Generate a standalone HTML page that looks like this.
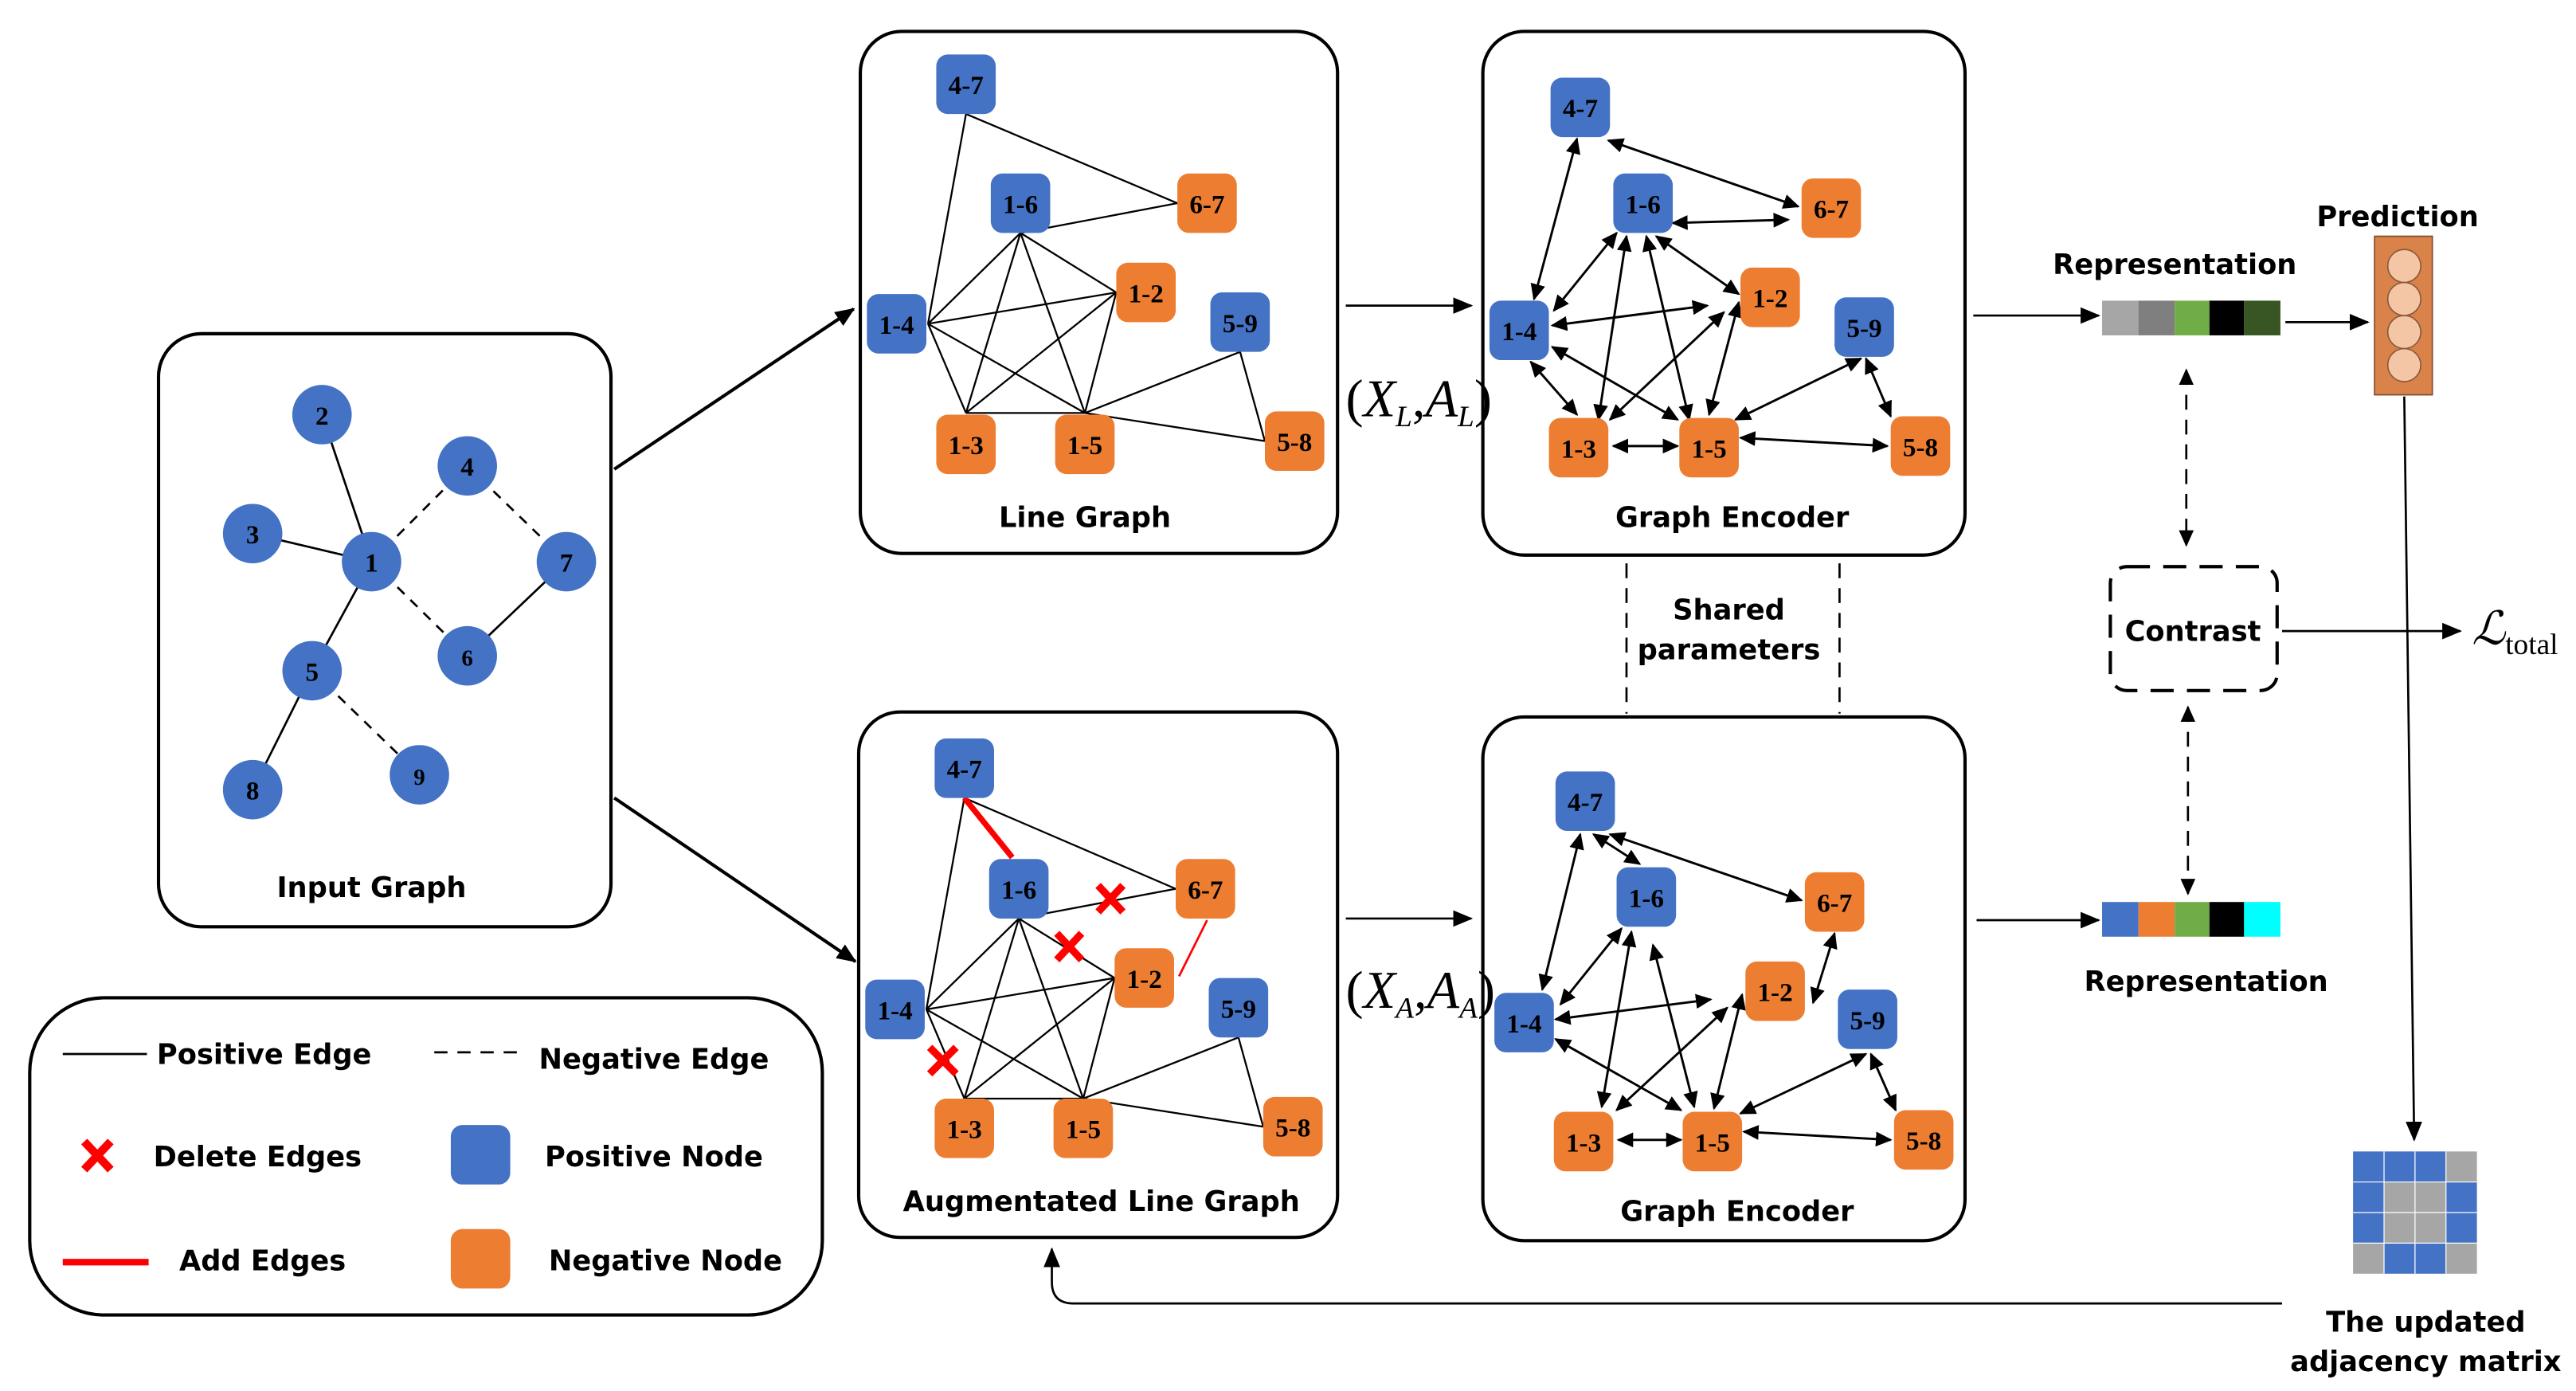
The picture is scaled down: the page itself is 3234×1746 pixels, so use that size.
<!DOCTYPE html>
<html><head><meta charset="utf-8"><style>
html,body{margin:0;padding:0;background:#fff;}
svg{display:block}
.t{font-family:"DejaVu Sans","Liberation Sans",sans-serif;font-size:17px;font-weight:bold;fill:#000;text-anchor:middle}
.n{font-family:"Liberation Serif",serif;font-size:16px;font-weight:bold;fill:#000;text-anchor:middle}
.m{font-family:"Liberation Serif",serif;font-style:italic;fill:#000}
</style></head><body>
<svg width="3234" height="1746" viewBox="0 0 1560 842" preserveAspectRatio="none" xmlns="http://www.w3.org/2000/svg">
<defs>
<marker id="a" markerUnits="userSpaceOnUse" markerWidth="12" markerHeight="10" refX="11" refY="5" orient="auto-start-reverse"><path d="M0,0 L12,5 L0,10 z" fill="#000"/></marker>
<marker id="s" markerUnits="userSpaceOnUse" markerWidth="10" markerHeight="9" refX="9" refY="4.5" orient="auto-start-reverse"><path d="M0,0 L10,4.5 L0,9 z" fill="#000"/></marker>
</defs>
<rect width="1560" height="842" fill="#fff"/>

<!-- Input graph -->
<rect x="96" y="202" width="274" height="359" rx="26" fill="none" stroke="#000" stroke-width="2"/>
<g stroke="#000" stroke-width="1.3">
<line x1="195" y1="251" x2="225" y2="340"/><line x1="153" y1="323" x2="225" y2="340"/>
<line x1="225" y1="340" x2="283" y2="282" stroke-dasharray="6,5"/><line x1="283" y1="282" x2="343" y2="340" stroke-dasharray="6,5"/>
<line x1="343" y1="340" x2="283" y2="397"/><line x1="225" y1="340" x2="283" y2="397" stroke-dasharray="6,5"/>
<line x1="225" y1="340" x2="189" y2="406"/><line x1="189" y1="406" x2="153" y2="478"/>
<line x1="189" y1="406" x2="254" y2="469" stroke-dasharray="6,5"/>
</g>
<g fill="#4472c4">
<circle cx="195" cy="251" r="18"/><circle cx="153" cy="323" r="18"/><circle cx="225" cy="340" r="18"/>
<circle cx="283" cy="282" r="18"/><circle cx="343" cy="340" r="18"/><circle cx="283" cy="397" r="18"/>
<circle cx="189" cy="406" r="18"/><circle cx="153" cy="478" r="18"/><circle cx="254" cy="469" r="18"/>
</g>
<g class="n"><text x="195" y="257">2</text><text x="153" y="329">3</text><text x="225" y="346">1</text><text x="283" y="288">4</text><text x="343" y="346">7</text><text x="283" y="403" font-size="14">6</text><text x="189" y="412">5</text><text x="153" y="484">8</text><text x="254" y="475" font-size="14">9</text></g>
<text class="t" x="225" y="543">Input Graph</text>

<!-- Legend -->
<rect x="18" y="604" width="480" height="192" rx="45" fill="none" stroke="#000" stroke-width="2"/>
<line x1="38" y1="638" x2="89" y2="638" stroke="#000" stroke-width="1.3"/>
<text class="t" x="160" y="644">Positive Edge</text>
<line x1="263" y1="637" x2="313" y2="637" stroke="#000" stroke-width="1.3" stroke-dasharray="8,6"/>
<text class="t" x="396" y="647">Negative Edge</text>
<g stroke="#f00" stroke-width="5"><line x1="51" y1="691" x2="67" y2="708"/><line x1="67" y1="691" x2="51" y2="708"/></g>
<text class="t" x="156" y="706">Delete Edges</text>
<line x1="38" y1="764" x2="90" y2="764" stroke="#f00" stroke-width="4"/>
<text class="t" x="159" y="769">Add Edges</text>
<rect x="273" y="681" width="36" height="36" rx="7" fill="#4472c4"/>
<text class="t" x="396" y="706">Positive Node</text>
<rect x="273" y="744" width="36" height="36" rx="7" fill="#ed7d31"/>
<text class="t" x="403" y="769">Negative Node</text>

<!-- main arrows -->
<line x1="372" y1="284" x2="517" y2="187" stroke="#000" stroke-width="2" marker-end="url(#a)"/>
<line x1="372" y1="483" x2="518" y2="582" stroke="#000" stroke-width="2" marker-end="url(#a)"/>

<!-- Line Graph -->
<rect x="521" y="19" width="289" height="316" rx="25" fill="none" stroke="#000" stroke-width="2"/>
<g stroke="#000" stroke-width="1.1">
<line x1="585" y1="69" x2="713" y2="123"/><line x1="585" y1="69" x2="562" y2="196"/>
<line x1="618" y1="141" x2="713" y2="123"/><line x1="618" y1="141" x2="562" y2="196"/><line x1="618" y1="141" x2="676" y2="177"/><line x1="618" y1="141" x2="585" y2="250"/><line x1="618" y1="141" x2="657" y2="250"/>
<line x1="562" y1="196" x2="676" y2="177"/><line x1="562" y1="196" x2="585" y2="250"/><line x1="562" y1="196" x2="657" y2="250"/>
<line x1="676" y1="177" x2="585" y2="250"/><line x1="676" y1="177" x2="657" y2="250"/><line x1="585" y1="250" x2="657" y2="250"/>
<line x1="657" y1="250" x2="751" y2="213"/><line x1="657" y1="250" x2="766" y2="267"/><line x1="751" y1="213" x2="766" y2="267"/>
</g>
<g>
<rect x="567" y="33" width="36" height="36" rx="7" fill="#4472c4"/><rect x="600" y="105" width="36" height="36" rx="7" fill="#4472c4"/><rect x="713" y="105" width="36" height="36" rx="7" fill="#ed7d31"/>
<rect x="676" y="159" width="36" height="36" rx="7" fill="#ed7d31"/><rect x="733" y="177" width="36" height="36" rx="7" fill="#4472c4"/><rect x="525" y="178" width="36" height="36" rx="7" fill="#4472c4"/>
<rect x="567" y="251" width="36" height="36" rx="7" fill="#ed7d31"/><rect x="639" y="251" width="36" height="36" rx="7" fill="#ed7d31"/><rect x="766" y="249" width="36" height="36" rx="7" fill="#ed7d31"/>
</g>
<g class="n"><text x="585" y="57">4-7</text><text x="618" y="129">1-6</text><text x="731" y="129">6-7</text><text x="694" y="183">1-2</text><text x="751" y="201">5-9</text><text x="543" y="202">1-4</text><text x="585" y="275">1-3</text><text x="657" y="275">1-5</text><text x="784" y="273">5-8</text></g>
<text class="t" x="657" y="319">Line Graph</text>

<!-- Augmented -->
<rect x="520" y="431" width="290" height="318" rx="25" fill="none" stroke="#000" stroke-width="2"/>
<g stroke="#000" stroke-width="1.1">
<line x1="584" y1="483" x2="712" y2="538"/><line x1="584" y1="483" x2="561" y2="611"/>
<line x1="617" y1="556" x2="712" y2="538"/><line x1="617" y1="556" x2="561" y2="611"/><line x1="617" y1="556" x2="675" y2="592"/><line x1="617" y1="556" x2="584" y2="665"/><line x1="617" y1="556" x2="656" y2="665"/>
<line x1="561" y1="611" x2="675" y2="592"/><line x1="561" y1="611" x2="584" y2="665"/><line x1="561" y1="611" x2="656" y2="665"/>
<line x1="675" y1="592" x2="584" y2="665"/><line x1="675" y1="592" x2="656" y2="665"/><line x1="584" y1="665" x2="656" y2="665"/>
<line x1="656" y1="665" x2="750" y2="628"/><line x1="656" y1="665" x2="765" y2="682"/><line x1="750" y1="628" x2="765" y2="682"/>
</g>
<line x1="584" y1="483" x2="613" y2="519" stroke="#f00" stroke-width="3.5"/>
<line x1="731" y1="557" x2="714" y2="591" stroke="#f00" stroke-width="1.3"/>
<g>
<rect x="566" y="447" width="36" height="36" rx="7" fill="#4472c4"/><rect x="599" y="520" width="36" height="36" rx="7" fill="#4472c4"/><rect x="712" y="520" width="36" height="36" rx="7" fill="#ed7d31"/>
<rect x="675" y="574" width="36" height="36" rx="7" fill="#ed7d31"/><rect x="732" y="592" width="36" height="36" rx="7" fill="#4472c4"/><rect x="524" y="593" width="36" height="36" rx="7" fill="#4472c4"/>
<rect x="566" y="665" width="36" height="36" rx="7" fill="#ed7d31"/><rect x="638" y="665" width="36" height="36" rx="7" fill="#ed7d31"/><rect x="765" y="664" width="36" height="36" rx="7" fill="#ed7d31"/>
</g>
<g class="n"><text x="584" y="471">4-7</text><text x="617" y="544">1-6</text><text x="730" y="544">6-7</text><text x="693" y="598">1-2</text><text x="750" y="616">5-9</text><text x="542" y="617">1-4</text><text x="584" y="689">1-3</text><text x="656" y="689">1-5</text><text x="783" y="688">5-8</text></g>
<g stroke="#f00" stroke-width="4.5">
<line x1="665" y1="536" x2="680" y2="552"/><line x1="680" y1="536" x2="665" y2="552"/>
<line x1="640" y1="565" x2="655" y2="581"/><line x1="655" y1="565" x2="640" y2="581"/>
<line x1="563" y1="634" x2="579" y2="650"/><line x1="579" y1="634" x2="563" y2="650"/>
</g>
<text class="t" x="667" y="733">Augmentated Line Graph</text>

<!-- to encoders -->
<line x1="815" y1="185" x2="891" y2="185" stroke="#000" stroke-width="1.3" marker-end="url(#a)"/>
<line x1="815" y1="556" x2="891" y2="556" stroke="#000" stroke-width="1.3" marker-end="url(#a)"/>
<text class="m" x="815" y="252" font-size="32"><tspan font-style="normal">(</tspan>X<tspan font-size="18" dy="6">L</tspan><tspan dy="-6" font-style="normal">,</tspan>A<tspan font-size="18" dy="6">L</tspan><tspan dy="-6" font-style="normal">)</tspan></text>
<text class="m" x="815" y="610" font-size="32"><tspan font-style="normal">(</tspan>X<tspan font-size="18" dy="6">A</tspan><tspan dy="-6" font-style="normal">,</tspan>A<tspan font-size="18" dy="6">A</tspan><tspan dy="-6" font-style="normal">)</tspan></text>

<!-- Encoder top -->
<rect x="898" y="19" width="292" height="317" rx="25" fill="none" stroke="#000" stroke-width="2"/>
<g stroke="#000" stroke-width="1.4" marker-start="url(#s)" marker-end="url(#s)">
<line x1="955" y1="84" x2="929" y2="181"/><line x1="974" y1="85" x2="1089" y2="125"/><line x1="1013" y1="135" x2="1083" y2="133"/>
<line x1="979" y1="141" x2="941" y2="188"/><line x1="985" y1="143" x2="968" y2="254"/><line x1="997" y1="143" x2="1023" y2="254"/>
<line x1="1003" y1="143" x2="1053" y2="178"/><line x1="940" y1="197" x2="1034" y2="185"/><line x1="940" y1="210" x2="1016" y2="254"/>
<line x1="927" y1="219" x2="955" y2="251"/><line x1="1044" y1="189" x2="975" y2="254"/><line x1="1053" y1="183" x2="1035" y2="251"/>
<line x1="977" y1="270" x2="1016" y2="270"/><line x1="1051" y1="254" x2="1127" y2="217"/><line x1="1054" y1="265" x2="1143" y2="270"/>
<line x1="1130" y1="217" x2="1145" y2="252"/>
</g>
<g>
<rect x="939" y="47" width="36" height="36" rx="7" fill="#4472c4"/><rect x="977" y="105" width="36" height="36" rx="7" fill="#4472c4"/><rect x="1091" y="108" width="36" height="36" rx="7" fill="#ed7d31"/>
<rect x="1054" y="162" width="36" height="36" rx="7" fill="#ed7d31"/><rect x="1111" y="180" width="36" height="36" rx="7" fill="#4472c4"/><rect x="902" y="182" width="36" height="36" rx="7" fill="#4472c4"/>
<rect x="938" y="253" width="36" height="36" rx="7" fill="#ed7d31"/><rect x="1017" y="253" width="36" height="36" rx="7" fill="#ed7d31"/><rect x="1145" y="252" width="36" height="36" rx="7" fill="#ed7d31"/>
</g>
<g class="n"><text x="957" y="71">4-7</text><text x="995" y="129">1-6</text><text x="1109" y="132">6-7</text><text x="1072" y="186">1-2</text><text x="1129" y="204">5-9</text><text x="920" y="206">1-4</text><text x="956" y="277">1-3</text><text x="1035" y="277">1-5</text><text x="1163" y="276">5-8</text></g>
<text class="t" x="1049" y="319">Graph Encoder</text>

<!-- Encoder bottom -->
<rect x="898" y="434" width="292" height="317" rx="25" fill="none" stroke="#000" stroke-width="2"/>
<g stroke="#000" stroke-width="1.4" marker-start="url(#s)" marker-end="url(#s)">
<line x1="957" y1="505" x2="934" y2="599"/><line x1="965" y1="505" x2="993" y2="523"/><line x1="975" y1="505" x2="1091" y2="545"/>
<line x1="1111" y1="565" x2="1098" y2="607"/><line x1="982" y1="562" x2="945" y2="608"/><line x1="988" y1="564" x2="970" y2="670"/>
<line x1="1001" y1="572" x2="1026" y2="670"/><line x1="942" y1="617" x2="1036" y2="605"/><line x1="942" y1="629" x2="1018" y2="672"/>
<line x1="1046" y1="610" x2="979" y2="672"/><line x1="1055" y1="602" x2="1038" y2="671"/><line x1="980" y1="690" x2="1018" y2="690"/>
<line x1="1054" y1="674" x2="1130" y2="638"/><line x1="1056" y1="685" x2="1145" y2="690"/><line x1="1133" y1="638" x2="1148" y2="672"/>
</g>
<g>
<rect x="942" y="467" width="36" height="36" rx="7" fill="#4472c4"/><rect x="979" y="525" width="36" height="36" rx="7" fill="#4472c4"/><rect x="1093" y="528" width="36" height="36" rx="7" fill="#ed7d31"/>
<rect x="1057" y="582" width="36" height="36" rx="7" fill="#ed7d31"/><rect x="1113" y="599" width="36" height="36" rx="7" fill="#4472c4"/><rect x="905" y="601" width="36" height="36" rx="7" fill="#4472c4"/>
<rect x="941" y="673" width="36" height="36" rx="7" fill="#ed7d31"/><rect x="1019" y="673" width="36" height="36" rx="7" fill="#ed7d31"/><rect x="1147" y="672" width="36" height="36" rx="7" fill="#ed7d31"/>
</g>
<g class="n"><text x="960" y="491">4-7</text><text x="997" y="549">1-6</text><text x="1111" y="552">6-7</text><text x="1075" y="606">1-2</text><text x="1131" y="623">5-9</text><text x="923" y="625">1-4</text><text x="959" y="697">1-3</text><text x="1037" y="697">1-5</text><text x="1165" y="696">5-8</text></g>
<text class="t" x="1052" y="739">Graph Encoder</text>

<!-- shared params -->
<line x1="985" y1="341" x2="985" y2="432" stroke="#000" stroke-width="1.3" stroke-dasharray="9,6"/>
<line x1="1114" y1="341" x2="1114" y2="432" stroke="#000" stroke-width="1.3" stroke-dasharray="9,6"/>
<text class="t" x="1047" y="375">Shared</text>
<text class="t" x="1047" y="399">parameters</text>

<g transform="translate(-5,0)">
<!-- representations -->
<line x1="1200" y1="191" x2="1276" y2="191" stroke="#000" stroke-width="1.3" marker-end="url(#a)"/>
<rect x="1278" y="182" width="22" height="21" fill="#a6a6a6"/><rect x="1300" y="182" width="22" height="21" fill="#7f7f7f"/><rect x="1322" y="182" width="21" height="21" fill="#70ad47"/><rect x="1343" y="182" width="21" height="21" fill="#000"/><rect x="1364" y="182" width="22" height="21" fill="#375623"/>
<text class="t" x="1322" y="166">Representation</text>
<line x1="1389" y1="195" x2="1439" y2="195" stroke="#000" stroke-width="1.3" marker-end="url(#a)"/>
<rect x="1443" y="143" width="35" height="96" fill="#d9824a" stroke="#7f4a2a" stroke-width="0.8"/>
<g fill="#f5c6a6" stroke="#8a5a3a" stroke-width="0.8"><circle cx="1461" cy="161" r="10"/><circle cx="1461" cy="181" r="10"/><circle cx="1461" cy="201" r="10"/><circle cx="1461" cy="221" r="10"/></g>
<text class="t" x="1457" y="137">Prediction</text>

<line x1="1329" y1="224" x2="1329" y2="330" stroke="#000" stroke-width="1.3" stroke-dasharray="9,6" marker-start="url(#s)" marker-end="url(#s)"/>
<rect x="1283" y="343" width="101" height="75" rx="10" fill="none" stroke="#000" stroke-width="2" stroke-dasharray="14,8"/>
<text class="t" x="1333" y="388">Contrast</text>
<line x1="1387" y1="382" x2="1495" y2="382" stroke="#000" stroke-width="1.3" marker-end="url(#a)"/>
<text x="1502" y="390" font-family="Liberation Serif,serif" font-size="28" font-style="italic">ℒ<tspan font-size="18" font-style="normal" dy="6">total</tspan></text>
<line x1="1330" y1="428" x2="1330" y2="541" stroke="#000" stroke-width="1.3" stroke-dasharray="9,6" marker-start="url(#s)" marker-end="url(#s)"/>

<line x1="1202" y1="557" x2="1276" y2="557" stroke="#000" stroke-width="1.3" marker-end="url(#a)"/>
<rect x="1278" y="546" width="22" height="21" fill="#4472c4"/><rect x="1300" y="546" width="22" height="21" fill="#ed7d31"/><rect x="1322" y="546" width="21" height="21" fill="#70ad47"/><rect x="1343" y="546" width="21" height="21" fill="#000"/><rect x="1364" y="546" width="22" height="21" fill="#00ffff"/>
<text class="t" x="1341" y="600">Representation</text>

<!-- matrix -->
<line x1="1461" y1="240" x2="1467" y2="690" stroke="#000" stroke-width="1.3" marker-end="url(#a)"/>
<g>
<rect x="1430" y="697" width="18.75" height="18.5" fill="#4472c4"/><rect x="1448.75" y="697" width="18.75" height="18.5" fill="#4472c4"/><rect x="1467.5" y="697" width="18.75" height="18.5" fill="#4472c4"/><rect x="1486.25" y="697" width="18.75" height="18.5" fill="#a6a6a6"/>
<rect x="1430" y="715.5" width="18.75" height="18.5" fill="#4472c4"/><rect x="1448.75" y="715.5" width="18.75" height="18.5" fill="#a6a6a6"/><rect x="1467.5" y="715.5" width="18.75" height="18.5" fill="#a6a6a6"/><rect x="1486.25" y="715.5" width="18.75" height="18.5" fill="#4472c4"/>
<rect x="1430" y="734" width="18.75" height="18.5" fill="#4472c4"/><rect x="1448.75" y="734" width="18.75" height="18.5" fill="#a6a6a6"/><rect x="1467.5" y="734" width="18.75" height="18.5" fill="#a6a6a6"/><rect x="1486.25" y="734" width="18.75" height="18.5" fill="#4472c4"/>
<rect x="1430" y="752.5" width="18.75" height="18.5" fill="#a6a6a6"/><rect x="1448.75" y="752.5" width="18.75" height="18.5" fill="#4472c4"/><rect x="1467.5" y="752.5" width="18.75" height="18.5" fill="#4472c4"/><rect x="1486.25" y="752.5" width="18.75" height="18.5" fill="#a6a6a6"/>
<g stroke="#fff" stroke-width="0.6" fill="none"><line x1="1448.75" y1="697" x2="1448.75" y2="771"/><line x1="1467.5" y1="697" x2="1467.5" y2="771"/><line x1="1486.25" y1="697" x2="1486.25" y2="771"/><line x1="1430" y1="715.5" x2="1505" y2="715.5"/><line x1="1430" y1="734" x2="1505" y2="734"/><line x1="1430" y1="752.5" x2="1505" y2="752.5"/></g>
</g>
<text class="t" x="1474" y="806">The updated</text>
<text class="t" x="1474" y="830">adjacency matrix</text>
</g>
<path d="M1382,789 L650,789 Q637,789 637,776 L637,756" fill="none" stroke="#000" stroke-width="1.3" marker-end="url(#a)"/>
</svg>
</body></html>
